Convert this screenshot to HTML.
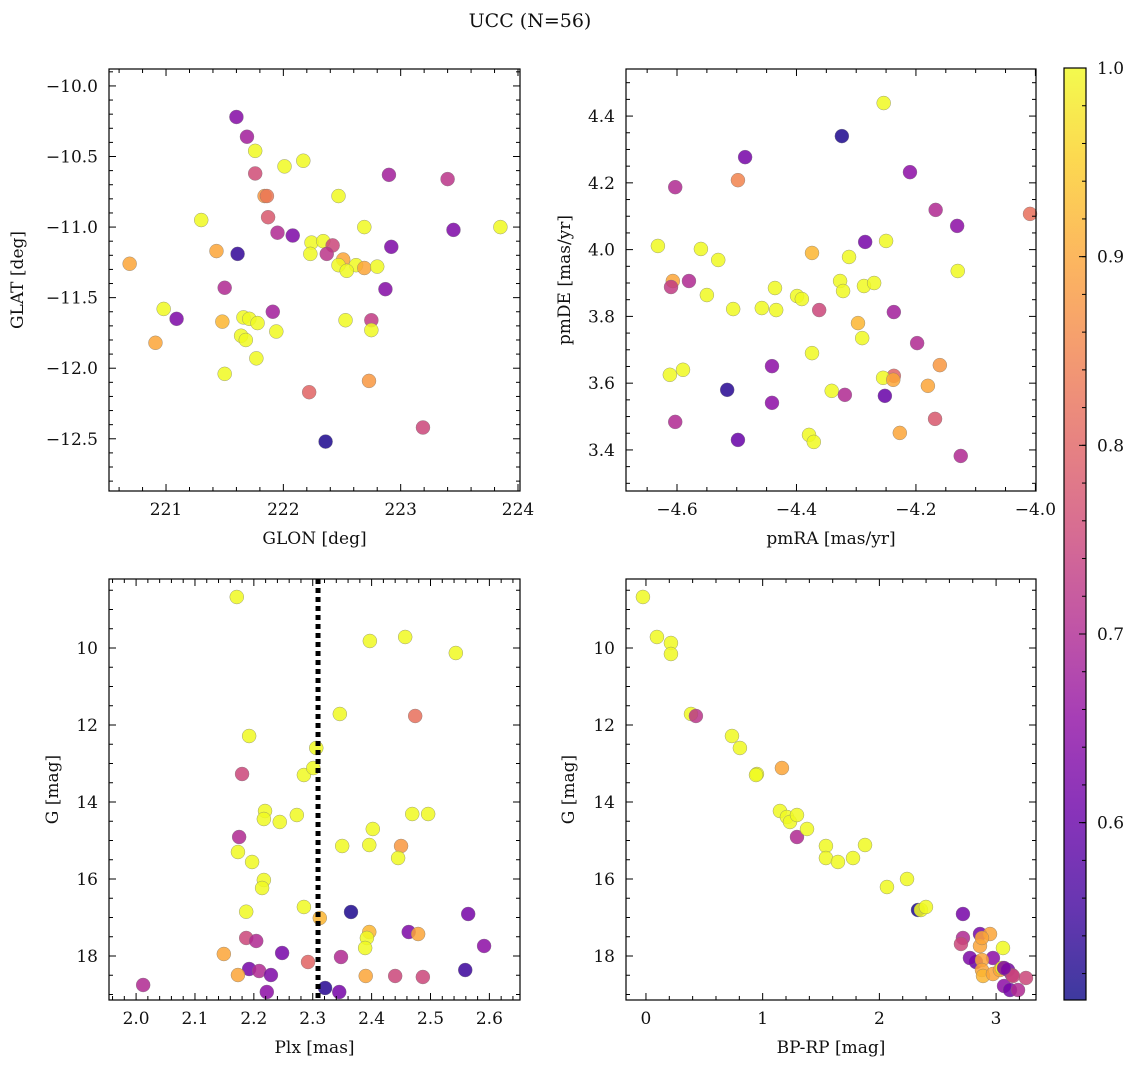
<!DOCTYPE html>
<html><head><meta charset="utf-8">
<style>
html,body{margin:0;padding:0;background:#fff;}
svg text{font-family:"DejaVu Serif","Liberation Serif",serif;fill:#111;}
</style></head>
<body>
<svg id="fig" width="1136" height="1068" xmlns="http://www.w3.org/2000/svg">
<text x="530" y="27" font-size="19" text-anchor="middle">UCC (N=56)</text>
</svg>
<script>
// ---- Panel data ----
const p1Glon=[221.60,221.69,221.76,221.76,222.01,222.17,222.90,223.40,221.84,221.86,222.47,221.30,221.87,221.95,222.08,222.24,222.34,222.42,222.69,221.43,221.61,222.37,222.23,222.92,223.45,223.85,220.69,222.51,222.62,222.47,222.54,222.69,222.80,221.50,220.98,221.09,221.66,221.71,221.91,221.48,221.78,221.64,221.68,221.94,222.87,222.53,222.75,222.75,221.77,221.50,220.91,222.22,222.73,223.19,222.36];
const p1Glat=[-10.22,-10.36,-10.46,-10.62,-10.57,-10.53,-10.63,-10.66,-10.78,-10.78,-10.78,-10.95,-10.93,-11.04,-11.06,-11.11,-11.10,-11.13,-11.00,-11.17,-11.19,-11.19,-11.19,-11.14,-11.02,-11.00,-11.26,-11.23,-11.27,-11.27,-11.31,-11.29,-11.28,-11.43,-11.58,-11.65,-11.64,-11.65,-11.60,-11.67,-11.68,-11.77,-11.80,-11.74,-11.44,-11.66,-11.66,-11.73,-11.93,-12.04,-11.82,-12.17,-12.09,-12.42,-12.52];
const p1Prob=[0.64,0.68,1,0.76,1,1,0.68,0.72,0.88,0.83,1,1,0.78,0.70,0.63,1,1,0.75,1,0.90,0.54,0.72,1,0.63,0.63,1,0.90,0.90,1,1,1,0.90,1,0.70,1,0.63,1,1,0.68,0.92,1,1,1,1,0.64,1,0.73,1,1,1,0.90,0.80,0.88,0.75,0.52];

const p2PmRA=[-4.254,-4.324,-4.486,-4.498,-4.603,-4.210,-4.009,-4.167,-4.131,-4.632,-4.560,-4.531,-4.285,-4.250,-4.130,-4.312,-4.374,-4.607,-4.610,-4.580,-4.550,-4.436,-4.399,-4.391,-4.327,-4.322,-4.287,-4.270,-4.506,-4.458,-4.434,-4.362,-4.297,-4.290,-4.237,-4.198,-4.374,-4.441,-4.160,-4.612,-4.590,-4.237,-4.255,-4.238,-4.180,-4.252,-4.341,-4.319,-4.516,-4.441,-4.168,-4.603,-4.498,-4.379,-4.371,-4.227,-4.125];
const p2PmDE=[4.439,4.340,4.277,4.208,4.187,4.232,4.107,4.119,4.071,4.011,4.002,3.969,4.023,4.026,3.936,3.978,3.990,3.906,3.888,3.906,3.864,3.885,3.861,3.852,3.906,3.876,3.891,3.900,3.822,3.825,3.819,3.819,3.780,3.735,3.813,3.720,3.690,3.651,3.654,3.625,3.640,3.622,3.616,3.610,3.592,3.562,3.577,3.565,3.580,3.541,3.493,3.484,3.430,3.445,3.424,3.451,3.382];
const p2Prob=[1,0.52,0.62,0.85,0.70,0.65,0.82,0.70,0.65,1,1,1,0.62,1,1,1,0.92,0.90,0.73,0.70,1,1,1,1,1,1,1,1,1,1,1,0.75,0.92,1,0.68,0.70,1,0.65,0.88,1,1,0.80,1,0.90,0.90,0.60,1,0.70,0.53,0.65,0.78,0.70,0.60,1,1,0.90,0.70];

const p3Plx=[2.171,2.397,2.457,2.543,2.346,2.474,2.192,2.306,2.180,2.285,2.301,2.219,2.217,2.244,2.273,2.469,2.496,2.402,2.350,2.396,2.450,2.445,2.175,2.173,2.197,2.217,2.214,2.187,2.285,2.312,2.365,2.564,2.187,2.204,2.396,2.392,2.389,2.463,2.479,2.149,2.248,2.348,2.292,2.591,2.192,2.209,2.173,2.229,2.390,2.440,2.487,2.559,2.012,2.222,2.321,2.345];
const p3G=[8.675,9.818,9.714,10.130,11.714,11.766,12.286,12.597,13.273,13.299,13.117,14.234,14.442,14.519,14.338,14.312,14.312,14.701,15.143,15.117,15.143,15.455,14.909,15.299,15.558,16.026,16.234,16.85,16.727,17.013,16.857,16.909,17.532,17.610,17.377,17.532,17.792,17.377,17.429,17.948,17.922,18.026,18.156,17.740,18.338,18.390,18.494,18.494,18.519,18.519,18.545,18.364,18.753,18.935,18.831,18.935];
const p3Prob=[1,1,1,1,1,0.82,1,1,0.75,1,1,1,1,1,1,1,1,1,1,1,0.88,1,0.70,1,1,1,1,1,1,0.92,0.52,0.62,0.75,0.70,0.92,1,1,0.63,0.90,0.90,0.62,0.70,0.80,0.65,0.62,0.70,0.90,0.63,0.90,0.75,0.75,0.55,0.70,0.65,0.53,0.62];

const p4BpRp=[-0.026,0.094,0.214,0.214,0.386,0.428,0.737,0.805,0.951,0.943,1.165,1.148,1.208,1.234,1.294,1.294,1.380,1.542,1.877,1.542,1.774,1.645,2.065,2.237,2.331,2.356,2.399,2.716,2.716,2.699,2.862,2.862,2.828,2.948,3.059,2.973,2.776,2.879,2.879,2.888,2.973,3.033,3.051,3.102,3.136,3.068,3.119,3.188,3.145,3.068,3.256,2.879];
const p4G=[8.675,9.714,9.870,10.156,11.714,11.766,12.286,12.597,13.273,13.299,13.117,14.234,14.390,14.519,14.338,14.909,14.701,15.143,15.117,15.455,15.455,15.558,16.208,16.0,16.805,16.805,16.727,16.909,17.532,17.688,17.429,17.740,18.156,17.429,17.792,18.052,18.052,18.104,18.364,18.519,18.468,18.364,18.312,18.364,18.494,18.779,18.883,18.883,18.519,18.312,18.571,17.532];
const p4Prob=[1,1,1,1,1,0.72,1,1,1,1,0.90,1,1,1,1,0.70,1,1,1,1,1,1,1,1,0.52,1,1,0.62,0.70,0.75,0.62,0.90,0.60,0.90,1,0.65,0.63,0.90,0.90,0.92,0.90,0.90,1,0.62,0.70,0.65,0.62,0.70,0.75,0.63,0.75,0.90];

const plxMean=[2.309];
const cbTicks=[0.6,0.7,0.8,0.9,1.0];

const NS="http://www.w3.org/2000/svg";
const svg=document.getElementById('fig');
function mk(tag,attrs,parent){const e=document.createElementNS(NS,tag);for(const k in attrs)e.setAttribute(k,attrs[k]);(parent||svg).appendChild(e);return e;}
const plasma=[[13,8,135],[65,4,157],[106,0,168],[143,13,164],[177,42,144],[204,71,120],[225,100,98],[242,132,75],[252,166,54],[252,206,37],[240,249,33]];
const PMIN=0.506,PMAX=1.0;
function cmap(p){let t=(p-PMIN)/(PMAX-PMIN);t=Math.max(0,Math.min(1,t))*10;const i=Math.min(9,Math.floor(t)),f=t-i;const a=plasma[i],b=plasma[i+1];return `rgb(${Math.round(a[0]+(b[0]-a[0])*f)},${Math.round(a[1]+(b[1]-a[1])*f)},${Math.round(a[2]+(b[2]-a[2])*f)})`;}
function fmt(v,d){const s=v.toFixed(d);return v<0?'\u2212'+s.slice(1):s;}

function panel(o){
  const g=mk('g',{});
  
  
  const sx=v=>o.L+(v-o.x0)/(o.x1-o.x0)*(o.R-o.L);
  const sy=v=>o.T+(v-o.y0)/(o.y1-o.y0)*(o.B-o.T);
  for(let i=0;i<o.xs.length;i++){
    const c=mk('circle',{cx:sx(o.xs[i]),cy:sy(o.ys[i]),r:7,fill:cmap(o.ps[i]),'fill-opacity':0.85,stroke:'#777','stroke-width':0.5,'stroke-opacity':0.7},g);
    
    
  }
  if(o.vline){
    for(const v of o.vline){const l=mk('line',{x1:sx(v),x2:sx(v),y1:o.T,y2:o.B,stroke:'#000','stroke-width':5,'stroke-dasharray':'5,4'},g);
    
    }
  }
  mk('rect',{x:o.L,y:o.T,width:o.R-o.L,height:o.B-o.T,fill:'none',stroke:'#000','stroke-width':1.2},g);
  const eps=1e-9;
  const xmin=Math.min(o.x0,o.x1),xmax=Math.max(o.x0,o.x1);
  for(let v=Math.ceil(xmin/o.xmn-eps)*o.xmn;v<=xmax+eps;v+=o.xmn){
    const X=sx(v);const major=Math.abs(v/o.xmj-Math.round(v/o.xmj))<1e-6;const len=major?7:4;
    mk('line',{x1:X,x2:X,y1:o.B,y2:o.B-len,stroke:'#000','stroke-width':1},g);
    mk('line',{x1:X,x2:X,y1:o.T,y2:o.T+len,stroke:'#000','stroke-width':1},g);
    if(major){const t=mk('text',{x:X,y:o.B+24,'font-size':17,'text-anchor':'middle'},g);t.textContent=fmt(v,o.xd);
      
      }
  }
  const ymin=Math.min(o.y0,o.y1),ymax=Math.max(o.y0,o.y1);
  for(let v=Math.ceil(ymin/o.ymn-eps)*o.ymn;v<=ymax+eps;v+=o.ymn){
    const Y=sy(v);const major=Math.abs(v/o.ymj-Math.round(v/o.ymj))<1e-6;const len=major?7:4;
    mk('line',{x1:o.L,x2:o.L+len,y1:Y,y2:Y,stroke:'#000','stroke-width':1},g);
    mk('line',{x1:o.R,x2:o.R-len,y1:Y,y2:Y,stroke:'#000','stroke-width':1},g);
    if(major){const t=mk('text',{x:o.L-11,y:Y+6,'font-size':17,'text-anchor':'end'},g);t.textContent=fmt(v,o.yd);
      
      }
  }
  const xl=mk('text',{x:(o.L+o.R)/2,y:o.B+53,'font-size':17,'text-anchor':'middle'},g);xl.textContent=o.xlab;
  
  
  const yl=mk('text',{x:o.ylx,y:(o.T+o.B)/2,'font-size':17,'text-anchor':'middle',transform:`rotate(-90 ${o.ylx} ${(o.T+o.B)/2})`},g);yl.textContent=o.ylab;
  
  
}
panel({name:'glon-glat-panel',L:109,R:520,T:69,B:491,x0:220.514,x1:224.017,y0:-9.88,y1:-12.87,xmj:1,xmn:0.2,ymj:0.5,ymn:0.1,xd:0,yd:1,xs:p1Glon,ys:p1Glat,ps:p1Prob,xlab:'GLON [deg]',ylab:'GLAT [deg]',ylx:23});
panel({name:'proper-motion-panel',L:626,R:1036,T:69,B:491,x0:-4.6854,x1:-3.999,y0:4.541,y1:3.277,xmj:0.2,xmn:0.05,ymj:0.2,ymn:0.05,xd:1,yd:1,xs:p2PmRA,ys:p2PmDE,ps:p2Prob,xlab:'pmRA [mas/yr]',ylab:'pmDE [mas/yr]',ylx:570});
panel({name:'plx-g-panel',L:109,R:520,T:579,B:1000,x0:1.954,x1:2.652,y0:8.208,y1:19.143,xmj:0.1,xmn:0.02,ymj:2,ymn:0.5,xd:1,yd:0,xs:p3Plx,ys:p3G,ps:p3Prob,xlab:'Plx [mas]',ylab:'G [mag]',ylx:58,vline:plxMean});
panel({name:'cmd-panel',L:626,R:1036,T:579,B:1000,x0:-0.171,x1:3.342,y0:8.208,y1:19.143,xmj:1,xmn:0.2,ymj:2,ymn:0.5,xd:0,yd:0,xs:p4BpRp,ys:p4G,ps:p4Prob,xlab:'BP-RP [mag]',ylab:'G [mag]',ylx:574});

const cb=mk('g',{});


const CT=68,CB=1000,CL=1064,CR=1086;
const defs=mk('defs',{},cb);const gr=mk('linearGradient',{id:'cbg',x1:0,y1:1,x2:0,y2:0},defs);
for(let i=0;i<=20;i++){const p=PMIN+(PMAX-PMIN)*i/20;mk('stop',{offset:i/20,'stop-color':cmap(p)},gr);}
mk('rect',{x:CL,y:CT,width:CR-CL,height:CB-CT,fill:'url(#cbg)','fill-opacity':0.8},cb);
mk('rect',{x:CL,y:CT,width:CR-CL,height:CB-CT,fill:'none',stroke:'#000','stroke-width':1.2},cb);
const cy=v=>CB-(v-PMIN)/(PMAX-PMIN)*(CB-CT);
for(let v=0.52;v<=1.0001;v+=0.02){mk('line',{x1:CR,x2:CR-4,y1:cy(v),y2:cy(v),stroke:'#000'},cb);}
for(const v of cbTicks){const Y=cy(v);mk('line',{x1:CR,x2:CR-7,y1:Y,y2:Y,stroke:'#000'},cb);
  const t=mk('text',{x:CR+11,y:Y+6,'font-size':17},cb);t.textContent=v.toFixed(1);
  
  }
</script>
</body></html>
